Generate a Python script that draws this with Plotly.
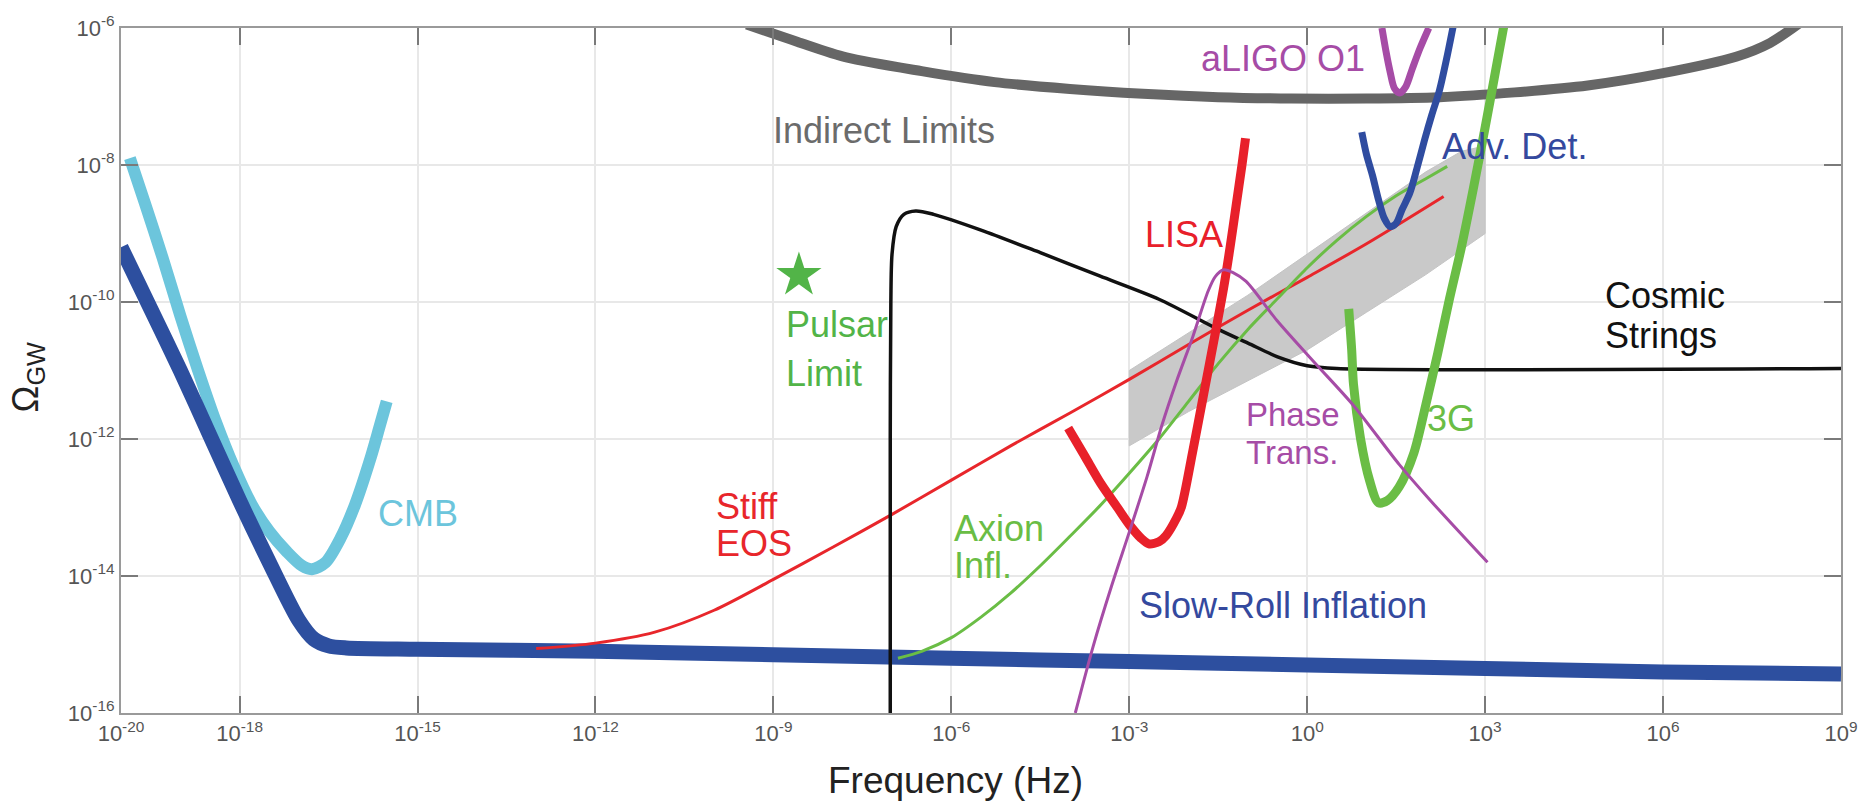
import numpy as np
import plotly.graph_objects as go

# ---- data (log10 of frequency [Hz] and log10 of Omega_GW) ----
slow_f = [-20.0, -19.5, -19.0, -18.5, -18.0, -17.5, -17.0, -16.75, -16.5, -16.2, -15.0, -12.0, -9.0, -6.0, -3.0, 0.0, 3.0, 6.0, 9.0]
slow_o = [-9.2, -10.1, -11.0, -11.95, -12.9, -13.8, -14.65, -14.92, -15.02, -15.05, -15.07, -15.1, -15.15, -15.2, -15.25, -15.3, -15.35, -15.4, -15.43]

cmb_f = [-19.85, -19.6, -19.3, -19.0, -18.7, -18.4, -18.1, -17.8, -17.5, -17.2, -16.95, -16.78, -16.55, -16.3, -16.05, -15.8, -15.65, -15.52]
cmb_o = [-7.9, -8.55, -9.35, -10.2, -11.0, -11.75, -12.4, -12.95, -13.35, -13.65, -13.85, -13.9, -13.8, -13.45, -12.95, -12.3, -11.85, -11.45]

stiff_f = [-13.0, -12.0, -11.0, -10.0, -9.0, -8.0, -7.0, -6.0, -5.0, -4.0, -3.0, -2.0, -1.0, 0.0, 1.0, 2.3]
stiff_o = [-15.06, -14.98, -14.82, -14.5, -14.05, -13.58, -13.1, -12.6, -12.1, -11.62, -11.13, -10.62, -10.12, -9.64, -9.15, -8.46]

cs_f = [-7.03, -7.03, -7.02, -7.0, -6.93, -6.8, -6.6, -6.3, -5.5, -4.5, -3.5, -2.5, -1.5, -1.0, -0.5, 0.0, 0.5, 9.0]
cs_o = [-16.5, -12.0, -10.0, -9.3, -8.9, -8.72, -8.67, -8.72, -8.95, -9.28, -9.62, -9.96, -10.4, -10.6, -10.8, -10.93, -10.97, -10.97]

axion_f = [-6.9, -6.5, -6.0, -5.5, -5.0, -4.5, -4.0, -3.5, -3.0, -2.5, -2.0, -1.5, -1.0, -0.5, 0.0, 0.5, 1.0, 1.5, 2.0, 2.36]
axion_o = [-15.2, -15.1, -14.9, -14.6, -14.25, -13.85, -13.42, -12.98, -12.5, -12.0, -11.45, -10.9, -10.4, -9.95, -9.5, -9.1, -8.75, -8.45, -8.2, -8.02]

band_up_f = [-3.0, -2.0, -1.0, 0.0, 1.0, 2.0, 2.6, 3.0]
band_up_o = [-11.0, -10.45, -9.9, -9.3, -8.7, -8.1, -7.8, -7.72]
band_lo_f = [3.0, 2.5, 2.0, 1.0, 0.0, -1.0, -2.0, -3.0]
band_lo_o = [-9.0, -9.3, -9.6, -10.15, -10.7, -11.15, -11.6, -12.1]

lisa_f = [-4.03, -3.75, -3.48, -3.2, -3.0, -2.8, -2.67, -2.5, -2.38, -2.2, -2.12, -1.93, -1.74, -1.54, -1.41, -1.3, -1.2, -1.1, -1.04]
lisa_o = [-11.84, -12.25, -12.65, -13.0, -13.25, -13.45, -13.53, -13.5, -13.41, -13.15, -12.99, -12.18, -11.32, -10.41, -9.8, -9.2, -8.6, -8.0, -7.61]

g3_f = [0.7, 0.75, 0.78, 0.9, 1.05, 1.2, 1.35, 1.55, 1.8, 2.0, 2.2, 2.4, 2.6, 2.8, 3.0, 3.15, 3.33]
g3_o = [-10.1, -10.7, -11.2, -12.0, -12.6, -12.93, -12.9, -12.7, -12.2, -11.5, -10.75, -9.95, -9.2, -8.35, -7.45, -6.75, -5.9]

adv_f = [0.92, 1.0, 1.1, 1.2, 1.3, 1.4, 1.5, 1.6, 1.73, 1.85, 1.98, 2.1, 2.23, 2.35, 2.46]
adv_o = [-7.52, -7.85, -8.15, -8.5, -8.78, -8.9, -8.85, -8.65, -8.41, -8.05, -7.63, -7.27, -6.91, -6.45, -5.98]

ligo_f = [1.26, 1.33, 1.40, 1.47, 1.56, 1.66, 1.77, 1.9, 2.05]
ligo_o = [-6.0, -6.35, -6.65, -6.88, -6.95, -6.86, -6.6, -6.3, -6.0]

pt_f = [-3.91, -3.61, -3.3, -3.0, -2.7, -2.45, -2.2, -1.93, -1.67, -1.55, -1.41, -1.25, -1.03, -0.51, 0.13, 0.78, 1.55, 2.07, 3.04]
pt_o = [-16.0, -15.03, -14.15, -13.36, -12.55, -11.8, -11.15, -10.51, -9.84, -9.63, -9.53, -9.57, -9.70, -10.27, -10.89, -11.51, -12.37, -12.89, -13.8]

ind_f = [-9.45, -8.6, -7.77, -6.5, -5.27, -4.0, -2.77, -1.5, -0.27, 1.0, 2.23, 3.5, 4.73, 6.0, 7.23, 7.8, 8.3]
ind_o = [-5.95, -6.2, -6.43, -6.63, -6.79, -6.89, -6.96, -7.01, -7.03, -7.03, -7.01, -6.94, -6.84, -6.66, -6.42, -6.22, -5.93]

pulsar_f = [-8.57]
pulsar_o = [-9.61]

x_tick_exp = [-20, -18, -15, -12, -9, -6, -3, 0, 3, 6, 9]
y_tick_exp = [-16, -14, -12, -10, -8, -6]

# labels: (text, log f, log Omega, color, anchor, size)
labels = [
    ("Indirect Limits", -7.14, -7.50, "#6b6b6b", "center", 36),
    ("aLIGO O1", -0.40, -6.45, "#a64ca6", "center", 36),
    ("Adv. Det.", 3.49, -7.73, "#34499e", "center", 36),
    ("LISA", -2.08, -9.02, "#e8202a", "center", 36),
    ("Cosmic", 5.0, -9.90, "#111111", "left", 36),
    ("Strings", 5.0, -10.49, "#111111", "left", 36),
    ("Phase", -1.05, -11.64, "#a64ca6", "left", 33),
    ("Trans.", -1.05, -12.2, "#a64ca6", "left", 33),
    ("3G", 2.43, -11.70, "#6abd45", "center", 36),
    ("Slow-Roll Inflation", -0.40, -14.43, "#34499e", "center", 36),
    ("Pulsar", -8.80, -10.33, "#52b448", "left", 36),
    ("Limit", -8.80, -11.04, "#52b448", "left", 36),
    ("Stiff", -9.98, -12.98, "#e8262b", "left", 36),
    ("EOS", -9.98, -13.52, "#e8262b", "left", 36),
    ("Axion", -5.98, -13.30, "#6abd45", "left", 36),
    ("Infl.", -5.98, -13.84, "#6abd45", "left", 36),
    ("CMB", -14.99, -13.09, "#6cc5dc", "center", 36),
]

FONT = "Liberation Sans, Arial, sans-serif"


def p(a):
    return [10.0 ** v for v in a]


fig = go.Figure()

# gray band
fig.add_trace(go.Scatter(x=p(band_up_f + band_lo_f + band_up_f[:1]),
                         y=p(band_up_o + band_lo_o + band_up_o[:1]),
                         mode="lines", fill="toself", fillcolor="#c9c9c9",
                         line=dict(color="#c4c4c4", width=1), hoverinfo="skip"))


def add_line(fx, oy, color, width, shape="spline"):
    fig.add_trace(go.Scatter(x=p(fx), y=p(oy), mode="lines",
                             line=dict(color=color, width=width, shape=shape, smoothing=0.8)))


add_line(ind_f, ind_o, "#666666", 10)
add_line(cmb_f, cmb_o, "#6cc5dc", 12)
add_line(slow_f, slow_o, "#2d4f9f", 15)
add_line(stiff_f, stiff_o, "#e8262b", 3)
add_line(cs_f, cs_o, "#111111", 3.5)
add_line(axion_f, axion_o, "#6abd45", 3)
add_line(lisa_f, lisa_o, "#e8202a", 9)
add_line(g3_f, g3_o, "#6abd45", 9)
add_line(pt_f, pt_o, "#a64ca6", 3)
add_line(adv_f, adv_o, "#2f4ca0", 7)
add_line(ligo_f, ligo_o, "#a64ca6", 7)

fig.add_trace(go.Scatter(x=p(pulsar_f), y=p(pulsar_o), mode="markers",
                         marker=dict(symbol="star", size=34, color="#52b448", line=dict(width=0))))

for txt, lx, ly, col, anc, sz in labels:
    fig.add_annotation(x=lx, y=ly, xref="x", yref="y", text=txt, showarrow=False,
                       xanchor=anc, yanchor="middle", borderpad=0,
                       font=dict(family=FONT, size=sz, color=col))

# axis titles
fig.add_annotation(x=0.485, y=-0.098, xref="paper", yref="paper", text="Frequency (Hz)",
                   showarrow=False, xanchor="center", yanchor="middle",
                   font=dict(family=FONT, size=37, color="#222222"))
fig.add_annotation(x=-0.054, y=0.49, xref="paper", yref="paper", text="Ω<sub>GW</sub>",
                   showarrow=False, xanchor="center", yanchor="middle", textangle=-90,
                   font=dict(family=FONT, size=36, color="#222222"))

axis_common = dict(type="log", showgrid=True, gridcolor="#e8e8e8", gridwidth=1.5,
                   showline=True, linecolor="#9a9a9a", linewidth=2, mirror="ticks",
                   ticks="inside", ticklen=17, tickwidth=1.5, tickcolor="#7a7a7a",
                   tickfont=dict(family=FONT, size=22, color="#555555"), zeroline=False)

fig.update_xaxes(range=[-20, 9], tickvals=p(x_tick_exp),
                 ticktext=["10<sup>%d</sup>" % e for e in x_tick_exp], **axis_common)
fig.update_yaxes(range=[-16, -6], tickvals=p(y_tick_exp),
                 ticktext=["10<sup>%d</sup>" % e for e in y_tick_exp], **axis_common)

fig.update_layout(width=1870, height=812, margin=dict(l=121, r=24, t=20, b=99),
                  paper_bgcolor="white", plot_bgcolor="white", showlegend=False)

fig.write_html("out.html")
